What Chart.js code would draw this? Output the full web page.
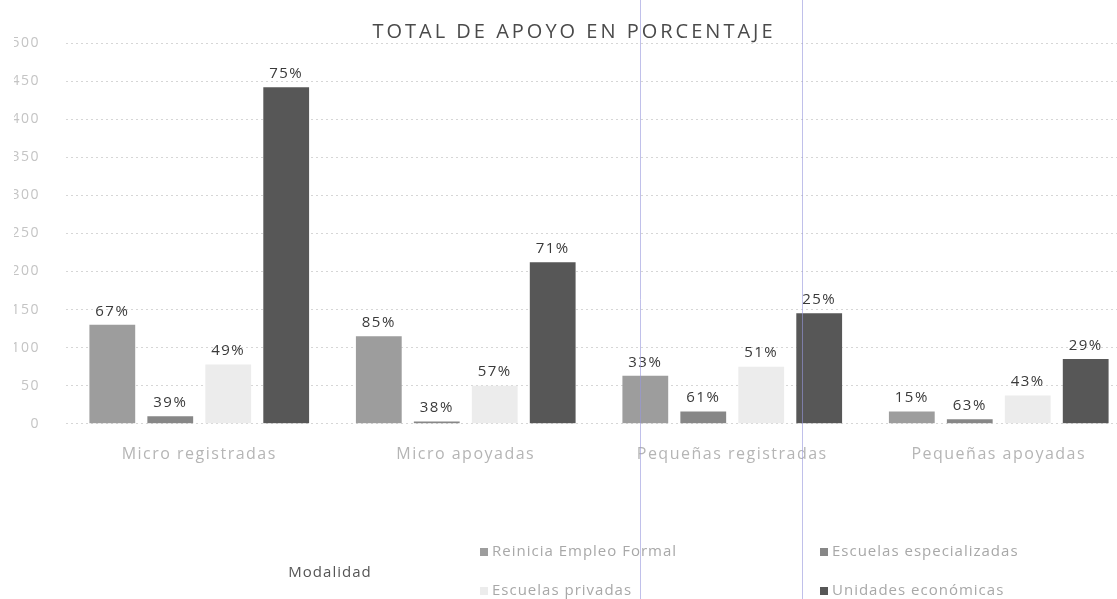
<!DOCTYPE html>
<html>
<head>
<meta charset="utf-8">
<script src="https://cdn.jsdelivr.net/npm/chart.js@4.4.1/dist/chart.umd.min.js"></script>
<style>
    html, body { margin: 0; padding: 0; background: #fff; overflow: hidden; }
    #wrap { width: 1135px; height: 599px; }
</style>
</head>
<body>
<div id="wrap"><canvas id="chart" width="1135" height="599"></canvas></div>
<script>
const categories = ['Micro registradas', 'Micro apoyadas', 'Pequeñas registradas', 'Pequeñas apoyadas'];
const seriesNames = ['Reinicia Empleo Formal', 'Escuelas especializadas', 'Escuelas privadas', 'Unidades económicas'];
const reinicia = [130, 115, 63, 16];
const especializadas = [10, 3, 16, 6];
const privadas = [78, 50, 75, 37];
const unidades = [442, 212, 145, 85];
const pctReinicia = ['67%', '85%', '33%', '15%'];
const pctEspecializadas = ['39%', '38%', '61%', '63%'];
const pctPrivadas = ['49%', '57%', '51%', '43%'];
const pctUnidades = ['75%', '71%', '25%', '29%'];
const yTicks = [0, 50, 100, 150, 200, 250, 300, 350, 400, 450, 500];
const colors = ['#9d9d9d', '#878787', '#ececec', '#575757'];

const FONT = "'Open Sans', 'Noto Sans', sans-serif";
const TITLE = 'TOTAL DE APOYO EN PORCENTAJE';

// el texto del original tiene letras mas separadas
const spacing = {
    id: 'spacing',
    beforeDraw(chart) {
        chart.ctx.letterSpacing = '1.5px';
    }
};

// etiquetas de porcentaje encima de cada barra
const pctLabels = {
    id: 'pctLabels',
    afterDatasetsDraw(chart) {
        const ctx = chart.ctx;
        ctx.save();
        ctx.font = '15px ' + FONT;
        ctx.fillStyle = '#3a3a3a';
        ctx.textAlign = 'center';
        ctx.textBaseline = 'bottom';
        chart.data.datasets.forEach((ds, i) => {
            chart.getDatasetMeta(i).data.forEach((bar, j) => {
                ctx.fillText(ds.pct[j], bar.x, bar.y - 6);
            });
        });
        ctx.restore();
    }
};

// titulo, leyenda en dos columnas y lineas del escaneo
const extras = {
    id: 'extras',
    afterDraw(chart) {
        const ctx = chart.ctx;
        ctx.save();
        ctx.letterSpacing = '3px';
        ctx.font = '20px ' + FONT;
        ctx.fillStyle = '#4a4a4a';
        ctx.textAlign = 'center';
        ctx.textBaseline = 'middle';
        ctx.fillText(TITLE, 574, 32);

        ctx.letterSpacing = '1px';
        ctx.font = '15px ' + FONT;
        ctx.fillStyle = '#555';
        ctx.fillText('Modalidad', 330, 573);
        const spots = [[480, 552], [820, 552], [480, 591], [820, 591]];
        ctx.textAlign = 'left';
        chart.data.datasets.forEach((ds, k) => {
            const [x, y] = spots[k];
            ctx.fillStyle = ds.backgroundColor;
            ctx.fillRect(x, y - 4, 8, 8);
            ctx.fillStyle = '#a8a8a8';
            ctx.fillText(ds.label, x + 12, y);
        });

        ctx.strokeStyle = 'rgba(150, 150, 220, 0.6)';
        ctx.lineWidth = 1;
        [640.5, 802.5].forEach(x => {
            ctx.beginPath();
            ctx.moveTo(x, 0);
            ctx.lineTo(x, 599);
            ctx.stroke();
        });
        ctx.restore();
    }
};

const series = [reinicia, especializadas, privadas, unidades];
const pcts = [pctReinicia, pctEspecializadas, pctPrivadas, pctUnidades];

new Chart(document.getElementById('chart'), {
    type: 'bar',
    data: {
        labels: categories,
        datasets: series.map((vals, i) => ({
            label: seriesNames[i],
            data: vals,
            pct: pcts[i],
            backgroundColor: colors[i],
            borderWidth: 0,
            categoryPercentage: 0.87,
            barPercentage: 0.79
        }))
    },
    options: {
        responsive: false,
        animation: false,
        layout: { padding: { left: 14, right: 3, top: 43, bottom: 122 } },
        plugins: {
            legend: { display: false },
            tooltip: { enabled: false }
        },
        scales: {
            x: {
                grid: { display: false },
                border: { display: false },
                ticks: { color: '#b5b5b5', font: { family: FONT, size: 16 }, padding: 13 }
            },
            y: {
                min: 0,
                max: 500,
                afterBuildTicks: axis => { axis.ticks = yTicks.map(v => ({ value: v })); },
                afterFit: axis => { axis.width = 52; },
                grid: { color: '#d6d6d6', drawTicks: false },
                border: { display: false, dash: [2, 3] },
                ticks: { color: '#c4c4c4', font: { family: FONT, size: 14 }, padding: 26 }
            }
        }
    },
    plugins: [spacing, pctLabels, extras]
});
</script>
</body>
</html>
